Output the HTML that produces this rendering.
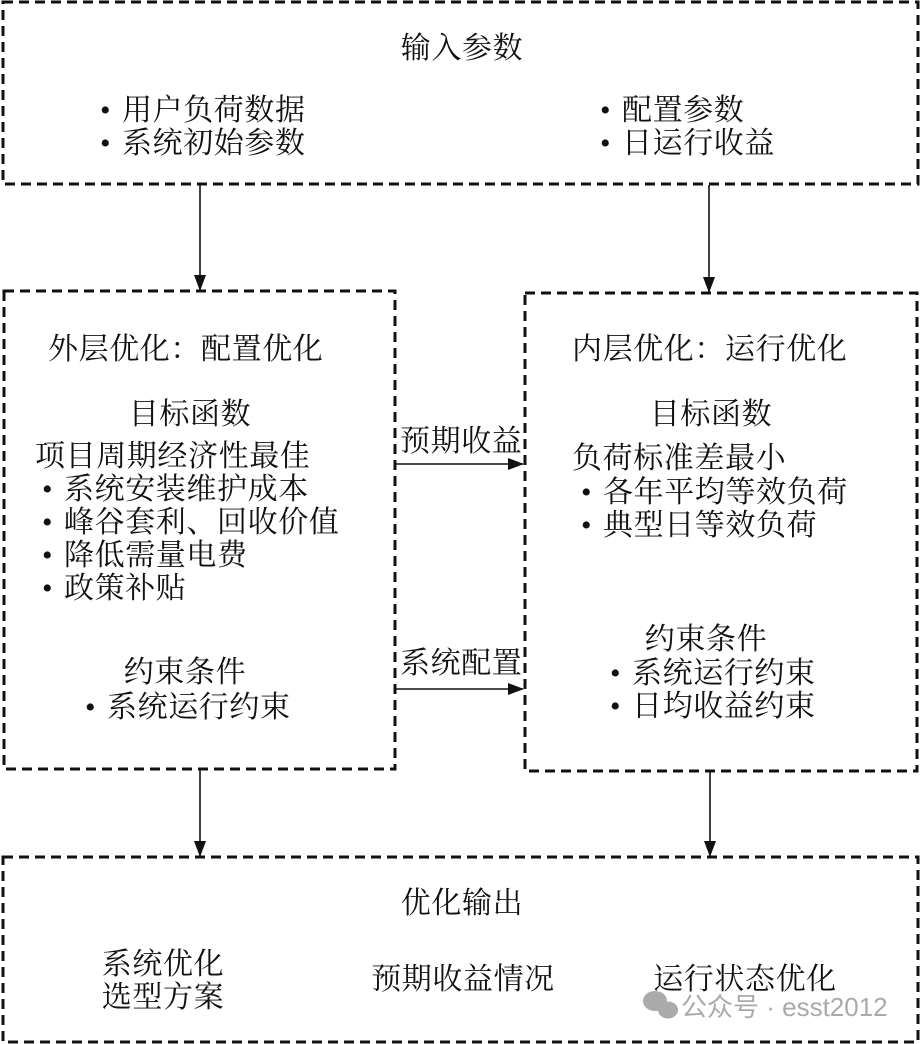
<!DOCTYPE html>
<html><head><meta charset="utf-8">
<style>html,body{margin:0;padding:0;background:#fff} .b{font-family:'Liberation Serif',serif}</style></head>
<body>
<svg width="921" height="1044" xmlns="http://www.w3.org/2000/svg" style="display:block">
<defs><marker id="b" markerWidth="16" markerHeight="12" refX="15" refY="6" orient="auto" markerUnits="userSpaceOnUse"><path d="M0,0 L16,6 L0,12 z" fill="#111"/></marker></defs>
<g fill="none" stroke="#111" stroke-width="3" stroke-dasharray="10,6">
<rect x="3" y="2" width="915" height="182"/>
<rect x="4" y="291" width="391" height="478"/>
<rect x="525" y="293" width="392" height="478"/>
<rect x="3" y="857" width="915" height="185"/>
</g>
<g stroke="#111" stroke-width="1.6">
<line x1="200" y1="185" x2="200" y2="290" marker-end="url(#b)"/>
<line x1="709" y1="185" x2="709" y2="292" marker-end="url(#b)"/>
<line x1="396" y1="464" x2="523" y2="464" marker-end="url(#b)"/>
<line x1="396" y1="689" x2="523" y2="689" marker-end="url(#b)"/>
<line x1="200" y1="770" x2="200" y2="856" marker-end="url(#b)"/>
<line x1="710" y1="772" x2="710" y2="856" marker-end="url(#b)"/>
</g>
<g font-family="'Noto Serif CJK SC','Liberation Serif',serif" font-size="30" letter-spacing="0.6" fill="#111">
<text x="462" y="58" text-anchor="middle">输入参数</text>
<text x="100" y="120"><tspan class="b">•</tspan><tspan x="122">用户负荷数据</tspan></text>
<text x="100" y="153"><tspan class="b">•</tspan><tspan x="122">系统初始参数</tspan></text>
<text x="600" y="120"><tspan class="b">•</tspan><tspan x="622">配置参数</tspan></text>
<text x="600" y="153"><tspan class="b">•</tspan><tspan x="622">日运行收益</tspan></text>
<text x="48" y="359">外层优化：配置优化</text>
<text x="190" y="424" text-anchor="middle">目标函数</text>
<text x="35" y="466">项目周期经济性最佳</text>
<text x="42" y="499"><tspan class="b">•</tspan><tspan x="64">系统安装维护成本</tspan></text>
<text x="42" y="532"><tspan class="b">•</tspan><tspan x="64">峰谷套利、回收价值</tspan></text>
<text x="42" y="565"><tspan class="b">•</tspan><tspan x="64">降低需量电费</tspan></text>
<text x="42" y="598"><tspan class="b">•</tspan><tspan x="64">政策补贴</tspan></text>
<text x="185" y="682" text-anchor="middle">约束条件</text>
<text x="85" y="717"><tspan class="b">•</tspan><tspan x="107">系统运行约束</tspan></text>
<text x="400" y="451">预期收益</text>
<text x="400" y="673">系统配置</text>
<text x="572" y="359">内层优化：运行优化</text>
<text x="711" y="424" text-anchor="middle">目标函数</text>
<text x="572" y="468">负荷标准差最小</text>
<text x="581" y="502"><tspan class="b">•</tspan><tspan x="603">各年平均等效负荷</tspan></text>
<text x="581" y="535"><tspan class="b">•</tspan><tspan x="603">典型日等效负荷</tspan></text>
<text x="706" y="649" text-anchor="middle">约束条件</text>
<text x="610" y="683"><tspan class="b">•</tspan><tspan x="632">系统运行约束</tspan></text>
<text x="610" y="716"><tspan class="b">•</tspan><tspan x="632">日均收益约束</tspan></text>
<text x="462" y="913" text-anchor="middle">优化输出</text>
<text x="163" y="974" text-anchor="middle">系统优化</text>
<text x="163" y="1007" text-anchor="middle">选型方案</text>
<text x="463" y="989" text-anchor="middle">预期收益情况</text>
<text x="745" y="989" text-anchor="middle">运行状态优化</text>
</g>
<g fill="#aaa">
<ellipse cx="655" cy="1001" rx="12" ry="10"/>
<ellipse cx="668" cy="1010" rx="10" ry="8.5"/>
<text x="681" y="1016" font-family="'Liberation Sans','Noto Sans CJK SC',sans-serif" font-size="26">公众号 · esst2012</text>
</g>
</svg>
</body></html>
